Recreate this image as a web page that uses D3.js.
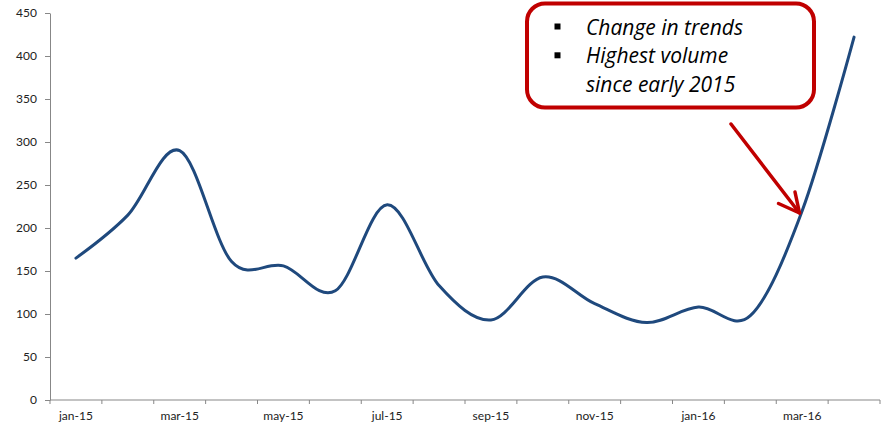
<!DOCTYPE html>
<html>
<head>
<meta charset="utf-8">
<script src="https://cdn.jsdelivr.net/npm/d3@7"></script>
<style>
  html, body { margin: 0; padding: 0; background: #fff; }
  svg { display: block; }
</style>
</head>
<body>
<svg id="chart" width="881" height="426"></svg>
<script>
// Monthly volume, Jan 2015 – Apr 2016
const months = ["jan-15", "feb-15", "mar-15", "apr-15", "may-15", "jun-15", "jul-15", "aug-15",
                "sep-15", "oct-15", "nov-15", "dec-15", "jan-16", "feb-16", "mar-16", "apr-16"];
const volumes = [165, 215, 290, 161, 156, 127, 227, 133, 93, 143, 112, 90, 108, 98, 220, 422];
const yTicks = [0, 50, 100, 150, 200, 250, 300, 350, 400, 450];
const labeledMonths = ["jan-15", "mar-15", "may-15", "jul-15", "sep-15", "nov-15", "jan-16", "mar-16"];
const calloutLines = [
  { text: "Change in trends", bullet: true },
  { text: "Highest volume", bullet: true },
  { text: "since early 2015", bullet: false }
];

(function draw() {
  const svg = d3.select("#chart");
  const plotLeft = 50, plotRight = 880, plotTop = 13, plotBottom = 400;
  const axisColor = "#878787";
  const tickFont = "Lato, 'Open Sans', sans-serif";

  const x = d3.scaleBand().domain(months).range([plotLeft, plotRight]);
  const y = d3.scaleLinear().domain([0, 450]).range([plotBottom, plotTop]);

  // Y axis
  const yAxis = svg.append("g")
    .attr("transform", `translate(${plotLeft},0)`)
    .call(d3.axisLeft(y).tickValues(yTicks).tickSize(5).tickSizeOuter(0).tickPadding(8));
  yAxis.select(".domain").attr("stroke", axisColor);
  yAxis.selectAll(".tick line").attr("stroke", axisColor);
  yAxis.selectAll(".tick text")
    .attr("fill", "#222").style("font-family", tickFont).style("font-size", "12px");

  // X axis: line, boundary ticks between months, labels on alternate months
  const xAxis = svg.append("g").attr("transform", `translate(0,${plotBottom})`);
  xAxis.append("line")
    .attr("x1", plotLeft).attr("x2", plotRight).attr("y1", 0).attr("y2", 0)
    .attr("stroke", axisColor);
  const boundaries = months.map(m => x(m)).concat([x.range()[1]]);
  xAxis.selectAll(".bound").data(boundaries).join("line")
    .attr("class", "bound")
    .attr("x1", d => d).attr("x2", d => d).attr("y1", 0).attr("y2", 4)
    .attr("stroke", axisColor);
  xAxis.selectAll(".xlabel").data(labeledMonths).join("text")
    .attr("class", "xlabel")
    .attr("x", d => x(d) + x.bandwidth() / 2)
    .attr("y", 20)
    .attr("text-anchor", "middle")
    .attr("fill", "#222")
    .style("font-family", tickFont).style("font-size", "12px")
    .text(d => d);

  // Smoothed series line
  const line = d3.line()
    .x((d, i) => x(months[i]) + x.bandwidth() / 2)
    .y(d => y(d))
    .curve(d3.curveCardinal.tension(0));
  svg.append("path")
    .datum(volumes)
    .attr("d", line)
    .attr("fill", "none")
    .attr("stroke", "#1F497D")
    .attr("stroke-width", 3)
    .attr("stroke-linecap", "round");

  // Callout box
  const red = "#C00000";
  svg.append("rect")
    .attr("x", 527).attr("y", 3.5).attr("width", 287).attr("height", 104)
    .attr("rx", 18).attr("ry", 18)
    .attr("fill", "#fff").attr("stroke", red).attr("stroke-width", 4);

  const callout = svg.append("g")
    .style("font-family", "'Open Sans', sans-serif").style("font-style", "italic").style("font-size", "21px");
  calloutLines.forEach((d, i) => {
    const base = 34.5 + i * 28.8;
    if (d.bullet) {
      callout.append("rect")
        .attr("x", 554.5).attr("y", base - 11).attr("width", 6).attr("height", 6)
        .attr("fill", "#000");
    }
    callout.append("text")
      .attr("x", 586).attr("y", base)
      .attr("fill", "#000")
      .text(d.text);
  });

  // Arrow pointing at the March 2016 upturn
  const arrow = svg.append("g")
    .attr("stroke", red).attr("stroke-width", 3.5).attr("fill", "none")
    .attr("stroke-linecap", "round").attr("stroke-linejoin", "round");
  const tip = [799.5, 213];
  arrow.append("line").attr("x1", 731).attr("y1", 124).attr("x2", tip[0]).attr("y2", tip[1]);
  arrow.append("polyline")
    .attr("points", [[778.5, 203.5], tip, [795, 192]].map(p => p.join(",")).join(" "));
})();
</script>
</body>
</html>
